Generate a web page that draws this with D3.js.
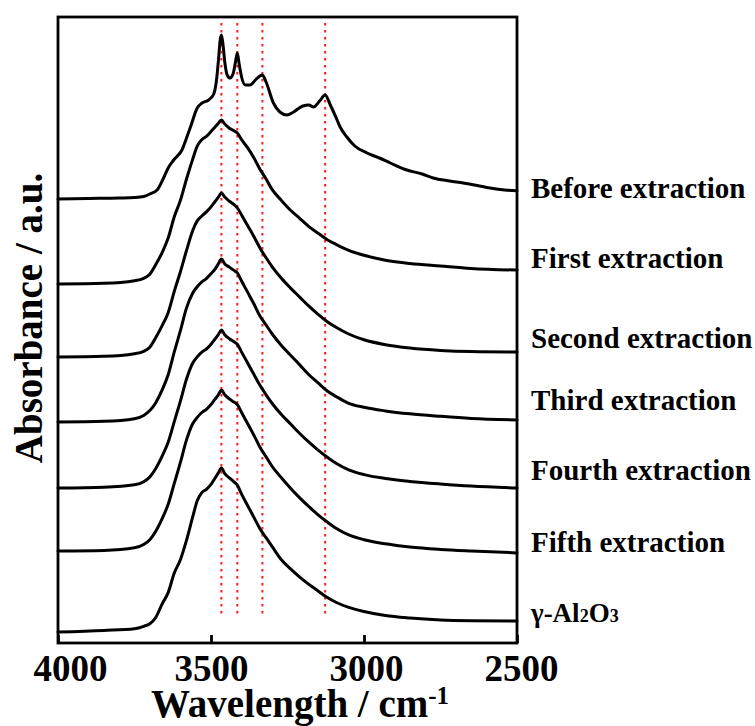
<!DOCTYPE html>
<html>
<head>
<meta charset="utf-8">
<script src="https://cdn.jsdelivr.net/npm/d3@7/dist/d3.min.js"></script>
<style>
  html, body { margin: 0; padding: 0; background: #fff; }
  svg { display: block; }
  text { font-family: "Liberation Serif", "Times New Roman", serif; font-weight: bold; fill: #000; }
</style>
</head>
<body>
<svg id="chart" width="755" height="726"></svg>
<script>
// FTIR spectra (stacked, offset absorbance) of the adsorbent before and after repeated extraction

const seriesNames = ["Before extraction", "First extraction", "Second extraction",
  "Third extraction", "Fourth extraction", "Fifth extraction", "γ-Al2O3"];

// wavenumber grid of the "Before extraction" spectrum (cm-1)
const waveBefore = [4000, 3900, 3800, 3750, 3720, 3700, 3676, 3655, 3640, 3622, 3595, 3580, 3567, 3545,
  3529, 3508, 3491, 3482, 3475, 3470, 3466, 3461, 3455, 3447, 3438, 3428, 3420, 3414, 3408, 3400,
  3388, 3372, 3355, 3340, 3332, 3320, 3296, 3275, 3252, 3230, 3200, 3180, 3165, 3145, 3127, 3110,
  3088, 3078, 3056, 3030, 2990, 2950, 2914, 2860, 2810, 2774, 2720, 2676, 2630, 2588, 2540, 2500];
const before = [4.44, 4.445, 4.45, 4.455, 4.465, 4.49, 4.53, 4.65, 4.75, 4.83, 4.93, 5.05, 5.16, 5.35,
  5.40, 5.43, 5.49, 5.63, 5.85, 6.03, 6.08, 5.99, 5.81, 5.68, 5.65, 5.69, 5.81, 5.90, 5.79, 5.66,
  5.58, 5.58, 5.63, 5.67, 5.68, 5.61, 5.40, 5.31, 5.28, 5.31, 5.37, 5.38, 5.36, 5.42, 5.48, 5.38,
  5.23, 5.16, 5.06, 4.97, 4.90, 4.85, 4.80, 4.73, 4.69, 4.65, 4.62, 4.60, 4.575, 4.55, 4.53, 4.523];

// wavenumber grid shared by the other spectra (cm-1)
const waveGrid = [4000, 3850, 3750, 3720, 3700, 3680, 3660, 3640, 3620, 3600, 3580, 3560, 3545, 3530,
  3515, 3500, 3488, 3476, 3466, 3455, 3440, 3425, 3414, 3400, 3380, 3360, 3340, 3320, 3300, 3270,
  3240, 3210, 3180, 3150, 3120, 3090, 3050, 3000, 2930, 2850, 2750, 2650, 2500];
const first = [3.59, 3.597, 3.623, 3.647, 3.688, 3.787, 3.902, 4.049, 4.262, 4.426, 4.640, 4.836, 4.968, 5.033,
  5.066, 5.115, 5.156, 5.197, 5.23, 5.189, 5.148, 5.123, 5.099, 5.033, 4.951, 4.853, 4.738, 4.640, 4.533, 4.426,
  4.328, 4.246, 4.164, 4.098, 4.033, 3.984, 3.926, 3.877, 3.828, 3.795, 3.770, 3.746, 3.729];
const second = [2.86, 2.867, 2.893, 2.917, 2.958, 3.057, 3.172, 3.303, 3.516, 3.713, 3.926, 4.123, 4.221, 4.270,
  4.311, 4.361, 4.410, 4.459, 4.50, 4.459, 4.418, 4.385, 4.352, 4.279, 4.172, 4.065, 3.951, 3.852, 3.762, 3.647,
  3.549, 3.459, 3.368, 3.286, 3.213, 3.155, 3.090, 3.032, 2.983, 2.950, 2.926, 2.914, 2.909];
const third = [2.21, 2.217, 2.243, 2.275, 2.324, 2.406, 2.528, 2.683, 2.911, 3.123, 3.351, 3.498, 3.563, 3.612,
  3.644, 3.693, 3.734, 3.791, 3.84, 3.791, 3.759, 3.726, 3.701, 3.620, 3.506, 3.392, 3.270, 3.180, 3.090, 2.976,
  2.878, 2.781, 2.683, 2.601, 2.520, 2.463, 2.397, 2.357, 2.321, 2.292, 2.267, 2.246, 2.230];
const fourth = [1.55, 1.558, 1.582, 1.613, 1.661, 1.748, 1.866, 2.008, 2.214, 2.419, 2.640, 2.798, 2.861, 2.909,
  2.940, 2.988, 3.035, 3.083, 3.13, 3.083, 3.043, 3.012, 2.988, 2.909, 2.798, 2.688, 2.577, 2.482, 2.395, 2.285,
  2.190, 2.095, 2.008, 1.929, 1.858, 1.795, 1.732, 1.684, 1.645, 1.616, 1.590, 1.569, 1.55];
const fifth = [0.92, 0.926, 0.952, 0.984, 1.033, 1.121, 1.242, 1.387, 1.596, 1.806, 2.031, 2.192, 2.256, 2.305,
  2.337, 2.385, 2.433, 2.482, 2.53, 2.482, 2.441, 2.409, 2.385, 2.305, 2.192, 2.079, 1.958, 1.862, 1.765, 1.653,
  1.548, 1.451, 1.363, 1.282, 1.210, 1.145, 1.081, 1.033, 0.992, 0.960, 0.936, 0.920, 0.901];
const alumina = [0.11, 0.126, 0.143, 0.167, 0.192, 0.258, 0.389, 0.504, 0.700, 0.832, 1.028, 1.258, 1.422, 1.504,
  1.537, 1.586, 1.643, 1.701, 1.75, 1.693, 1.652, 1.611, 1.578, 1.488, 1.373, 1.258, 1.143, 1.053, 0.963, 0.832,
  0.741, 0.659, 0.586, 0.520, 0.454, 0.405, 0.356, 0.315, 0.274, 0.249, 0.230, 0.223, 0.220];

// band positions marked by dotted guide lines (cm-1)
const bandLines = [3466, 3414, 3332, 3127];
const xTicks = [4000, 3500, 3000, 2500];

// ---- layout ----
const plot = { left: 58, right: 517, top: 17, bottom: 643 };
const svg = d3.select("#chart");

const x = d3.scaleLinear().domain([4000, 2500]).range([plot.left, plot.right]);
const y = d3.scaleLinear().domain([0, 6.26]).range([plot.bottom, plot.top]);

// dotted guide lines
svg.append("g").selectAll("line").data(bandLines).join("line")
  .attr("x1", d => x(d)).attr("x2", d => x(d))
  .attr("y1", y(6.2)).attr("y2", y(0.26))
  .attr("stroke", "#ff1a1a").attr("stroke-width", 2)
  .attr("stroke-dasharray", "2.5,4.5");

// spectra
const spectra = [
  { wave: waveBefore, vals: before },
  { wave: waveGrid, vals: first },
  { wave: waveGrid, vals: second },
  { wave: waveGrid, vals: third },
  { wave: waveGrid, vals: fourth },
  { wave: waveGrid, vals: fifth },
  { wave: waveGrid, vals: alumina }
];
const line = d3.line()
  .x(d => x(d[0]))
  .y(d => y(d[1]))
  .curve(d3.curveMonotoneX);

svg.append("g").selectAll("path").data(spectra).join("path")
  .attr("d", s => line(d3.zip(s.wave, s.vals)))
  .attr("fill", "none")
  .attr("stroke", "#000")
  .attr("stroke-width", 3)
  .attr("stroke-linejoin", "round")
  .attr("stroke-linecap", "round");

// frame
svg.append("rect")
  .attr("x", plot.left).attr("y", plot.top)
  .attr("width", plot.right - plot.left).attr("height", plot.bottom - plot.top)
  .attr("fill", "none").attr("stroke", "#000").attr("stroke-width", 2.8);

// bottom axis: inward ticks and labels
const xAxis = d3.axisBottom(x).tickValues(xTicks).tickSizeInner(-8).tickSizeOuter(0)
  .tickFormat(d3.format("d"));
const gx = svg.append("g").attr("transform", `translate(0,${plot.bottom})`).call(xAxis);
gx.select(".domain").remove();
gx.selectAll(".tick line").attr("stroke", "#000").attr("stroke-width", 2.8);
const labelShift = { 4000: 12, 3500: 0, 3000: 2, 2500: 4 };
gx.selectAll(".tick text")
  .attr("font-family", "'Liberation Serif', 'Times New Roman', serif")
  .attr("font-weight", "bold")
  .attr("font-size", 37)
  .attr("fill", "#000")
  .attr("y", null).attr("dy", null)
  .attr("transform", d => `translate(${labelShift[d]},38)`);

// axis titles
const xt = svg.append("text")
  .attr("x", 300).attr("y", 717)
  .attr("text-anchor", "middle")
  .attr("font-size", 39);
xt.append("tspan").text("Wavelength / cm");
xt.append("tspan").attr("font-size", 25).attr("dy", -13).text("-1");

svg.append("text")
  .attr("transform", "translate(42,318) rotate(-90)")
  .attr("text-anchor", "middle")
  .attr("font-size", 39)
  .text("Absorbance / a.u.");

// series labels at the right of the frame
const labelBaselines = [198, 268, 348, 410, 480, 552, 622];
const labels = svg.append("g");
seriesNames.forEach((name, i) => {
  const t = labels.append("text")
    .attr("x", 531).attr("y", labelBaselines[i])
    .attr("font-size", i === 6 ? 27 : 29);
  if (i === 6) {
    // γ-Al2O3 with smaller digits
    const parts = name.match(/[^0-9]+|[0-9]+/g);
    parts.forEach(p => {
      const sp = t.append("tspan").text(p);
      if (/^[0-9]+$/.test(p)) sp.attr("font-size", 18);
    });
  } else {
    t.text(name);
  }
});
</script>
</body>
</html>
